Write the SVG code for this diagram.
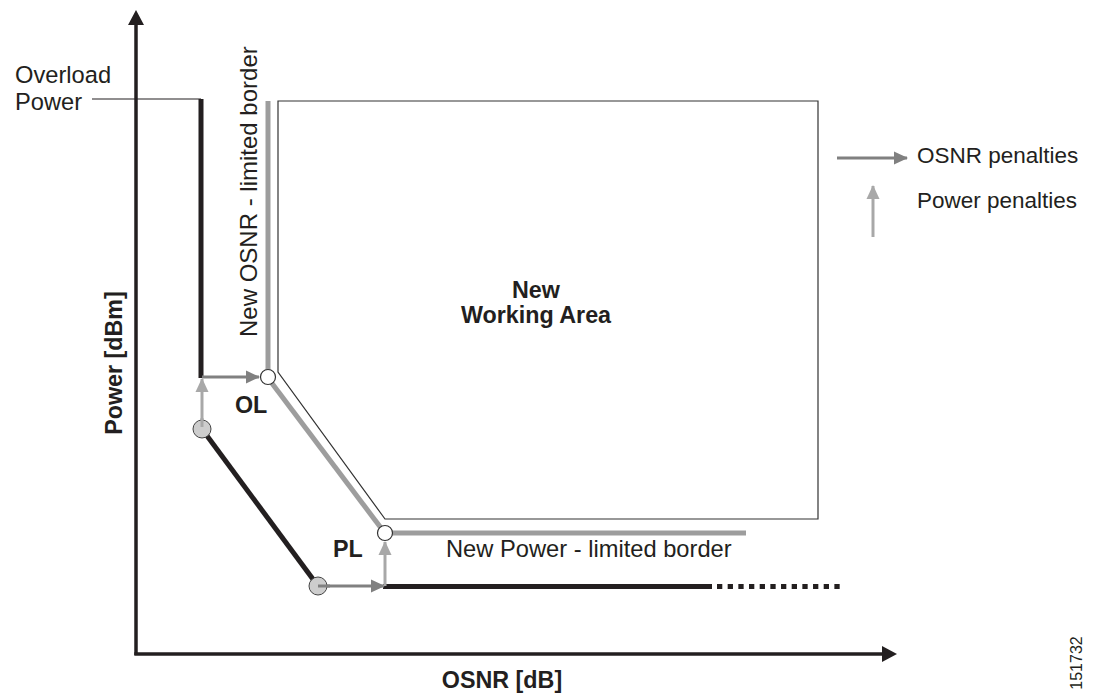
<svg xmlns="http://www.w3.org/2000/svg" width="1101" height="693" viewBox="0 0 1101 693">
<style>
.t{font-family:"Liberation Sans",Arial,sans-serif;font-size:23.7px;fill:#231f20}
.b{font-weight:bold;font-size:23.3px}
.blk{fill:none;stroke:#231f20;stroke-width:5}
.gb{fill:none;stroke:#9d9d9d;stroke-width:5}
.ao{fill:none;stroke:#808080;stroke-width:3}
.ap{fill:none;stroke:#a8a8a8;stroke-width:3}
</style>
<defs>
<marker id="ho" markerUnits="userSpaceOnUse" markerWidth="14" markerHeight="14" viewBox="0 0 14 14" refX="13" refY="7" orient="auto"><path d="M0,0.5 L14,7 L0,13.5 Z" fill="#808080"/></marker>
<marker id="hp" markerUnits="userSpaceOnUse" markerWidth="14" markerHeight="14" viewBox="0 0 14 14" refX="13" refY="7" orient="auto"><path d="M0,0.5 L14,7 L0,13.5 Z" fill="#a8a8a8"/></marker>
</defs>
<rect width="1101" height="693" fill="#fff"/>
<g id="axes">
<path d="M136,655 V22" stroke="#231f20" stroke-width="3.5" fill="none"/>
<path d="M136,10 L128,25 L144,25 Z" fill="#231f20"/>
<path d="M134.3,654 H885" stroke="#231f20" stroke-width="3.5" fill="none"/>
<path d="M897,654 L882,646 L882,662 Z" fill="#231f20"/>
<text class="t b" x="502" y="688" text-anchor="middle">OSNR [dB]</text>
<text class="t b" transform="translate(122,363) rotate(-90)" text-anchor="middle">Power [dBm]</text>
</g>
<g id="working-area">
<path d="M278,101 H818 V519 H385 L278,372 Z" fill="none" stroke="#333" stroke-width="1.2"/>
<text class="t b" x="536" y="298" text-anchor="middle">New</text>
<text class="t b" x="536" y="323" text-anchor="middle">Working Area</text>
</g>
<g id="overload">
<path d="M92,99 H201" stroke="#231f20" stroke-width="1.2" fill="none"/>
<text class="t" x="15" y="83">Overload</text>
<text class="t" x="15" y="110">Power</text>
</g>
<g id="connectors">
<path class="blk" d="M201,99 V378"/>
<path class="blk" d="M202,429 L318,586"/>
<path class="blk" d="M383,586.5 H712"/>
<path d="M717,586.5 H840" stroke="#231f20" stroke-width="5" stroke-dasharray="5.3 5.37" fill="none"/>
<path class="gb" d="M268,101 V370"/>
<path class="gb" d="M271,382 L381,528"/>
<path class="gb" d="M392,533 H746"/>
<path class="ap" d="M202,420 V379" marker-end="url(#hp)"/>
<path class="ao" d="M202,377 H259" marker-end="url(#ho)"/>
<path class="ao" d="M327,586 H384" marker-end="url(#ho)"/>
<path class="ap" d="M385,586 V542" marker-end="url(#hp)"/>
</g>
<g id="points">
<circle cx="202" cy="429" r="9" fill="#cdcdcd" stroke="#444" stroke-width="1"/>
<circle cx="318" cy="586" r="9" fill="#cdcdcd" stroke="#444" stroke-width="1"/>
<circle cx="268" cy="377" r="7.5" fill="#fff" stroke="#333" stroke-width="1.2"/>
<circle cx="385" cy="533" r="7.5" fill="#fff" stroke="#333" stroke-width="1.2"/>
<path class="ap" d="M202,427 V418"/>
<path class="ao" d="M318,586 H330"/>
</g>
<g id="labels">
<text class="t b" x="235" y="413">OL</text>
<text class="t b" x="333" y="557">PL</text>
<text class="t" x="446" y="557">New Power - limited border</text>
<text class="t" transform="translate(257,337) rotate(-90)" style="font-size:24px">New OSNR - limited border</text>
</g>
<g id="legend">
<path class="ao" d="M837,158 H907" marker-end="url(#ho)"/>
<text class="t" x="917" y="163" style="font-size:22.5px">OSNR penalties</text>
<path class="ap" d="M873,237 V186" marker-end="url(#hp)"/>
<text class="t" x="917" y="208" style="font-size:22.5px">Power penalties</text>
</g>
<text class="t" transform="translate(1082,663) rotate(-90)" text-anchor="middle" style="font-size:16px">151732</text>
</svg>
